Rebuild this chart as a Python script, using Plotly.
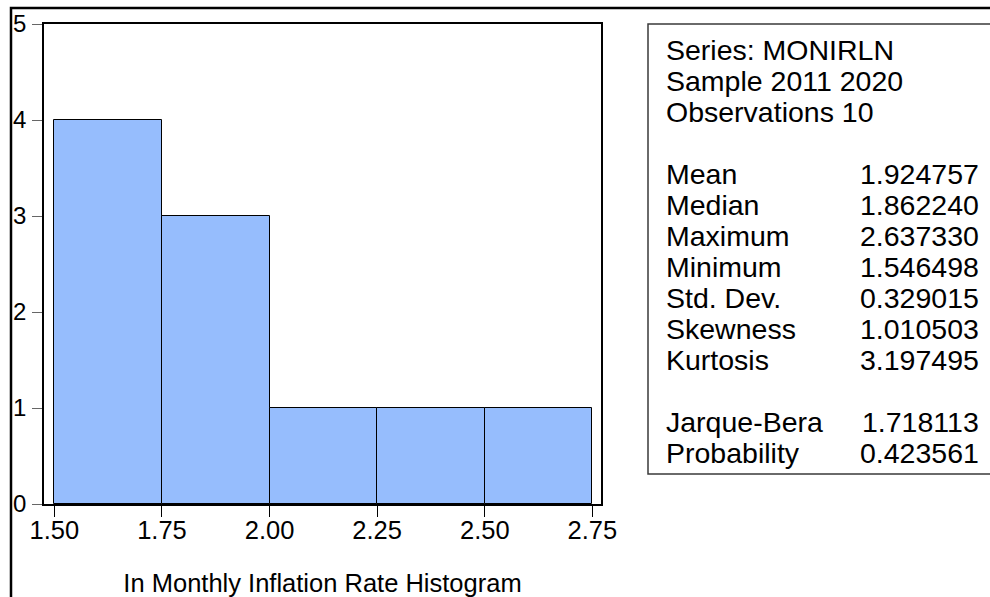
import plotly.graph_objects as go

# Histogram of ln monthly inflation rate, 2011-2020
bin_edges = [1.50, 1.75, 2.00, 2.25, 2.50, 2.75]
counts = [4, 3, 1, 1, 1]
x_tick_vals = [1.50, 1.75, 2.00, 2.25, 2.50, 2.75]
x_tick_text = ["1.50", "1.75", "2.00", "2.25", "2.50", "2.75"]
y_tick_vals = [0, 1, 2, 3, 4, 5]

# Descriptive statistics panel
header_lines = ["Series: MONIRLN", "Sample 2011 2020", "Observations 10"]
stat_names = ["Mean", "Median", "Maximum", "Minimum", "Std. Dev.", "Skewness", "Kurtosis"]
stat_values = ["1.924757", "1.862240", "2.637330", "1.546498", "0.329015", "1.010503", "3.197495"]
test_names = ["Jarque-Bera", "Probability"]
test_values = ["1.718113", "0.423561"]

W, H = 990, 597
ML, MR, MT, MB = 44, 389, 24, 93
PW, PH = W - ML - MR, H - MT - MB
FONT = "Liberation Sans, Arial, sans-serif"


def px(x):
    return (x - ML) / PW


def py(y):
    return (H - MB - y) / PH


centers = [(a + b) / 2 for a, b in zip(bin_edges[:-1], bin_edges[1:])]
widths = [b - a for a, b in zip(bin_edges[:-1], bin_edges[1:])]

fig = go.Figure(
    go.Bar(
        x=centers,
        y=counts,
        width=widths,
        marker=dict(color="#96BDFD", line=dict(color="#000000", width=1)),
        hoverinfo="skip",
    )
)

fig.update_layout(
    width=W,
    height=H,
    margin=dict(l=ML, r=MR, t=MT, b=MB, pad=0, autoexpand=False),
    paper_bgcolor="white",
    plot_bgcolor="white",
    showlegend=False,
    font=dict(family=FONT, color="black", size=25),
    bargap=0,
)

fig.update_xaxes(
    range=[1.476, 2.770],
    automargin=False,
    tickmode="array",
    tickvals=x_tick_vals,
    ticktext=x_tick_text,
    ticks="outside",
    ticklen=11,
    tickwidth=1,
    tickcolor="#000000",
    tickfont=dict(size=25.5),
    ticklabelstandoff=-8,
    showline=True,
    linecolor="#000000",
    linewidth=1.5,
    mirror=True,
    showgrid=False,
    zeroline=False,
    title=dict(text="In Monthly Inflation Rate Histogram", font=dict(size=25.5), standoff=31),
)

fig.update_yaxes(
    range=[0, 5],
    automargin=False,
    tickmode="array",
    tickvals=y_tick_vals,
    ticks="outside",
    ticklen=10,
    tickwidth=1,
    tickcolor="#666666",
    tickfont=dict(size=24),
    ticklabelstandoff=1,
    showline=True,
    linecolor="#000000",
    linewidth=1.5,
    mirror=True,
    showgrid=False,
    zeroline=False,
)

# Outer frame and statistics box
fig.add_shape(type="rect", xref="paper", yref="paper",
              x0=px(11), y0=py(615), x1=px(1010), y1=py(8),
              line=dict(color="#000000", width=2.5), layer="above")
fig.add_shape(type="rect", xref="paper", yref="paper",
              x0=px(648), y0=py(474), x1=px(1010), y1=py(24),
              line=dict(color="#3a3a3a", width=1.5), layer="above")

LINE0, STEP = 50, 31
LABEL_X, VALUE_X = 664, 981
STAT_FONT = dict(family=FONT, size=28.5, color="black")


def add_row(slot, label, value=None):
    y = py(LINE0 + STEP * slot)
    fig.add_annotation(x=px(LABEL_X), y=y, xref="paper", yref="paper",
                       text=label, showarrow=False, xanchor="left", yanchor="middle",
                       font=STAT_FONT)
    if value is not None:
        fig.add_annotation(x=px(VALUE_X), y=y, xref="paper", yref="paper",
                           text=value, showarrow=False, xanchor="right", yanchor="middle",
                           font=STAT_FONT)


slot = 0
for line in header_lines:
    add_row(slot, line)
    slot += 1
slot += 1
for name, val in zip(stat_names, stat_values):
    add_row(slot, name, val)
    slot += 1
slot += 1
for name, val in zip(test_names, test_values):
    add_row(slot, name, val)
    slot += 1

fig.write_html("out.html")
